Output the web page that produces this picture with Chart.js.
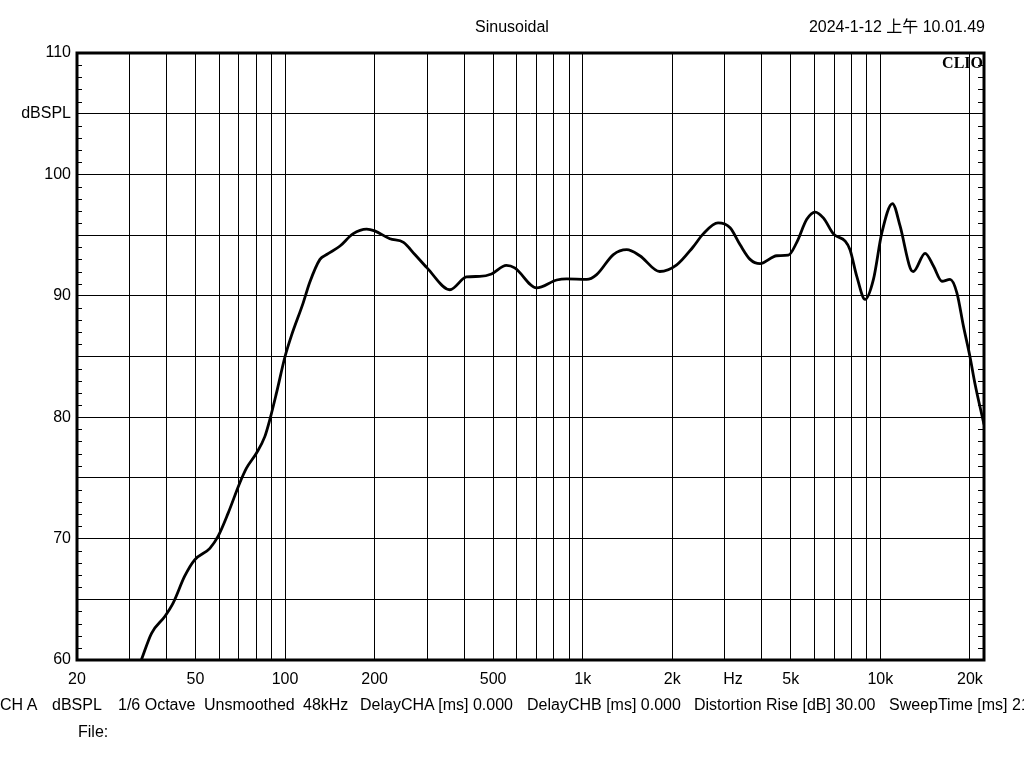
<!DOCTYPE html>
<html>
<head>
<meta charset="utf-8">
<script src="https://cdn.jsdelivr.net/npm/chart.js@4"></script>
<style>
  html, body { margin: 0; padding: 0; background: #fff; overflow: hidden; }
  #wrap { position: relative; width: 1024px; height: 768px; overflow: hidden; }
  #chart { position: absolute; left: 0; top: 0; }
  .txt { position: absolute; font-family: 'Liberation Sans', Arial, sans-serif; font-size: 16px; color: #000; white-space: nowrap; line-height: 18px; }
  .clio { font-family: 'Liberation Serif', 'Times New Roman', serif; font-weight: bold; font-size: 16px; }
</style>
</head>
<body>
<div id="wrap">
  <canvas id="chart" width="1024" height="768"></canvas>
  <div class="txt" style="left:512px; top:18px; transform:translateX(-50%);">Sinusoidal</div>
  <div class="txt" style="right:39px; top:18px; font-family:'Liberation Sans', 'Noto Sans CJK SC', sans-serif;">2024-1-12 上午 10.01.49</div>
  <div class="txt clio" style="right:41px; top:54px;">CLIO</div>
  <div class="txt" style="left:0px; top:696px;">CH A</div>
  <div class="txt" style="left:52px; top:696px;">dBSPL</div>
  <div class="txt" style="left:118px; top:696px;">1/6 Octave</div>
  <div class="txt" style="left:204px; top:696px;">Unsmoothed</div>
  <div class="txt" style="left:303px; top:696px;">48kHz</div>
  <div class="txt" style="left:360px; top:696px;">DelayCHA [ms] 0.000</div>
  <div class="txt" style="left:527px; top:696px;">DelayCHB [ms] 0.000</div>
  <div class="txt" style="left:694px; top:696px;">Distortion Rise [dB] 30.00</div>
  <div class="txt" style="left:889px; top:696px;">SweepTime [ms] 21</div>
  <div class="txt" style="left:78px; top:723px;">File:</div>
</div>
<script>
const freqHz = [32.9, 35.6, 39.5, 42.1, 46.0, 49.7, 55.9, 59.6, 64.4, 70.5,
  74.2, 80.2, 85.5, 88.9, 93.6, 100, 105, 115, 121, 131,
  138, 153, 169, 188, 200, 225, 250, 273, 300, 358,
  407, 451, 494, 554, 591, 700, 818, 883, 1031, 1114,
  1268, 1406, 1556, 1815, 2070, 2345, 2541, 2849, 3128, 3380,
  3650, 3945, 4487, 4910, 5238, 5660, 6040, 6446, 6956, 7620,
  7910, 8335, 8890, 9480, 10120, 10980, 11650, 12590, 12910, 14140,
  15080, 16100, 17150, 18080, 19020, 20000, 20780, 22300];
const splDb = [60, 62.2, 63.6, 64.7, 66.9, 68.25, 69.2, 70.2, 72.1, 74.6,
  75.8, 77.05, 78.4, 79.8, 82.0, 85.0, 86.7, 89.4, 91.1, 93.0,
  93.4, 94.1, 95.1, 95.5, 95.35, 94.7, 94.4, 93.4, 92.3, 90.5,
  91.55, 91.6, 91.8, 92.5, 92.3, 90.65, 91.3, 91.4, 91.35, 91.75,
  93.4, 93.8, 93.3, 92.0, 92.55, 94.0, 95.1, 96.0, 95.6, 94.2,
  93.0, 92.65, 93.3, 93.35, 94.4, 96.3, 96.9, 96.4, 95.1, 94.5,
  93.8, 91.6, 89.7, 91.35, 95.2, 97.6, 95.75, 92.3, 92.0, 93.5,
  92.45, 91.2, 91.35, 90.25, 87.5, 85.0, 82.8, 79.4];

// x grid lines and their labels
const xGrid = [20, 30, 40, 50, 60, 70, 80, 90, 100, 200, 300, 400, 500, 600, 700, 800, 900,
  1000, 2000, 3000, 3200, 4000, 5000, 6000, 7000, 8000, 9000, 10000, 20000];
const xLabels = { 20: '20', 50: '50', 100: '100', 200: '200', 500: '500', 1000: '1k',
  2000: '2k', 3200: 'Hz', 5000: '5k', 10000: '10k', 20000: '20k' };
const yLabels = { 60: '60', 70: '70', 80: '80', 90: '90', 100: '100', 105: 'dBSPL', 110: '110' };

const points = freqHz.map((f, i) => ({ x: f, y: splDb[i] }));

// frame + small inward dB ticks on both sides
const framePlugin = {
  id: 'frame',
  afterDatasetsDraw(chart) {
    const { ctx, chartArea: a, scales } = chart;
    ctx.save();
    ctx.strokeStyle = '#000';
    ctx.lineWidth = 1;
    ctx.beginPath();
    for (let v = 61; v < 110; v++) {
      if (v % 5 === 0) continue;
      const y = Math.round(scales.y.getPixelForValue(v)) + 0.5;
      ctx.moveTo(a.left, y); ctx.lineTo(a.left + 5, y);
      ctx.moveTo(a.right - 6, y); ctx.lineTo(a.right, y);
    }
    ctx.stroke();
    ctx.lineWidth = 3;
    ctx.strokeRect(a.left, a.top, a.right - a.left, a.bottom - a.top);
    ctx.restore();
  }
};

Chart.defaults.font.family = "'Liberation Sans', Arial, sans-serif";
Chart.defaults.font.size = 16;
Chart.defaults.color = '#000';

new Chart(document.getElementById('chart'), {
  type: 'line',
  data: {
    datasets: [{
      data: points,
      borderColor: '#000',
      borderWidth: 2.8,
      pointRadius: 0,
      fill: false,
      cubicInterpolationMode: 'monotone'
    }]
  },
  options: {
    responsive: false,
    animation: false,
    layout: { padding: { top: 53, right: 40, left: 0, bottom: 0 } },
    plugins: { legend: { display: false }, tooltip: { enabled: false } },
    scales: {
      x: {
        type: 'logarithmic',
        min: 20,
        max: 22300,
        afterBuildTicks: scale => { scale.ticks = xGrid.map(v => ({ value: v })); },
        afterFit: scale => { scale.height = 108; },
        ticks: {
          autoSkip: false,
          maxRotation: 0,
          padding: 10,
          callback: v => xLabels[v] || ''
        },
        grid: {
          color: c => (c.tick && c.tick.value === 3200) ? 'rgba(0,0,0,0)' : '#000',
          lineWidth: 1,
          drawTicks: false
        },
        border: { display: false }
      },
      y: {
        min: 60,
        max: 110,
        afterFit: scale => { scale.width = 77; },
        ticks: {
          stepSize: 1,
          autoSkip: false,
          padding: 6,
          callback: v => yLabels[v] || ''
        },
        grid: {
          color: c => (c.tick && c.tick.value % 5 === 0) ? '#000' : 'rgba(0,0,0,0)',
          lineWidth: 1,
          drawTicks: false
        },
        border: { display: false }
      }
    }
  },
  plugins: [framePlugin]
});
</script>
</body>
</html>
